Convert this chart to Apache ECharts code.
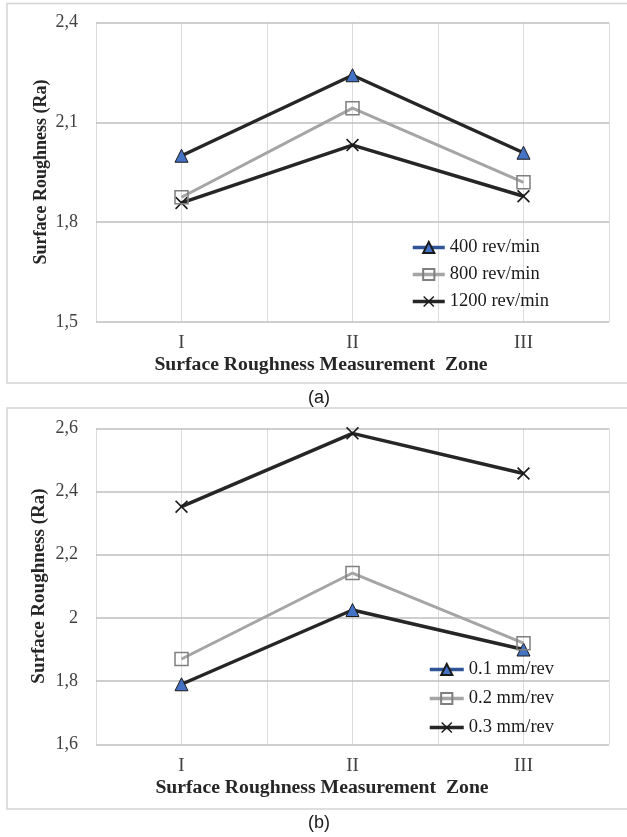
<!DOCTYPE html>
<html>
<head>
<meta charset="utf-8">
<script src="https://cdn.jsdelivr.net/npm/echarts@6/dist/echarts.min.js"></script>
<style>
html,body{margin:0;padding:0;background:#fff;}
#c{width:627px;height:837px;}
</style>
</head>
<body>
<div id="c"></div>
<script>
// ---- data ----
const categories = ['I', 'II', 'III'];
// chart (a): spindle speed
const seriesNamesA = ['400 rev/min', '800 rev/min', '1200 rev/min'];
const a400 = [2.0, 2.242, 2.009];
const a800 = [1.875, 2.143, 1.92];
const a1200 = [1.858, 2.032, 1.878];
const yTicksA = { min: 1.5, max: 2.4, interval: 0.3 };
// chart (b): feed rate
const seriesNamesB = ['0.1 mm/rev', '0.2 mm/rev', '0.3 mm/rev'];
const b01 = [1.79, 2.025, 1.90];
const b02 = [1.87, 2.142, 1.92];
const b03 = [2.352, 2.584, 2.457];
const yTicksB = { min: 1.6, max: 2.6, interval: 0.2 };
const yTitle = 'Surface Roughness (Ra)';
const xTitle = 'Surface Roughness Measurement  Zone';
const captions = ['(a)', '(b)'];

// ---- styles ----
const SERIF = '"Liberation Serif", "Times New Roman", serif';
const SANS = '"Liberation Sans", Arial, sans-serif';
const BLACK = '#262626';
const GREY = '#a5a5a5';
const BLUE = '#4472c4';
const XPATH = 'path://M0,0.9L0.9,0L5,4.1L9.1,0L10,0.9L5.9,5L10,9.1L9.1,10L5,5.9L0.9,10L0,9.1L4.1,5Z';

const fmt = v => String(+v.toFixed(1)).replace('.', ',');

function triSeries(name, data, xi, yi) {
  return { name, type: 'line', xAxisIndex: xi, yAxisIndex: yi, data,
    symbol: 'triangle', symbolSize: 13,
    lineStyle: { color: BLACK, width: 3.5 },
    itemStyle: { color: BLUE, borderColor: '#1a1a1a', borderWidth: 1 }, z: 3 };
}
function sqSeries(name, data, xi, yi) {
  return { name, type: 'line', xAxisIndex: xi, yAxisIndex: yi, data,
    symbol: 'rect', symbolSize: 13,
    lineStyle: { color: GREY, width: 3 },
    itemStyle: { color: 'rgba(255,255,255,0)', borderColor: '#7f7f7f', borderWidth: 1.5 }, z: 4 };
}
function xSeries(name, data, xi, yi) {
  return { name, type: 'line', xAxisIndex: xi, yAxisIndex: yi, data,
    symbol: XPATH, symbolSize: 13,
    lineStyle: { color: BLACK, width: 3.5 },
    itemStyle: { color: '#1a1a1a' }, z: 2 };
}

function catAxis(gi) {
  return { type: 'category', gridIndex: gi, data: categories, boundaryGap: true,
    axisLine: { show: false }, axisTick: { show: false }, splitLine: { show: false },
    axisLabel: { margin: 12, fontFamily: SERIF, fontSize: 19, color: '#404040' } };
}
function vGridAxis(gi) {
  return { type: 'value', gridIndex: gi, min: 0, max: 6, interval: 1, position: 'top',
    axisLine: { show: false }, axisTick: { show: false }, axisLabel: { show: false },
    splitLine: { show: true, lineStyle: { color: '#dcdcdc', width: 1 } } };
}
function valAxis(gi, t) {
  return { type: 'value', gridIndex: gi, min: t.min, max: t.max, interval: t.interval,
    axisLine: { show: false }, axisTick: { show: false },
    axisLabel: { margin: 18, fontFamily: SERIF, fontSize: 18, color: '#404040', formatter: fmt },
    splitLine: { show: true, lineStyle: { color: '#bfbfbf', width: 1.5 } }, z: 1 };
}

function legendData(names) {
  return [
    { name: names[0], lineStyle: { color: '#2f5597', width: 3.5 } },
    { name: names[1], lineStyle: { color: GREY, width: 3.5 } },
    { name: names[2], lineStyle: { color: BLACK, width: 3.5 } }
  ];
}

function txt(x, y, text, opts) {
  return Object.assign({ type: 'text', x, y, silent: true,
    style: Object.assign({ text, textAlign: 'center', textVerticalAlign: 'middle', fill: BLACK },
      opts.style || {}) }, opts.el || {});
}

const chart = echarts.init(document.getElementById('c'), null, { renderer: 'canvas' });
chart.setOption({
  animation: false,
  backgroundColor: '#fff',
  grid: [
    { left: 96, top: 22.7, width: 513, height: 299.3 },
    { left: 96, top: 428.3, width: 513, height: 316 }
  ],
  xAxis: [catAxis(0), catAxis(1), vGridAxis(0), vGridAxis(1)],
  yAxis: [valAxis(0, yTicksA), valAxis(1, yTicksB)],
  legend: [
    { orient: 'vertical', left: 411, top: 238, padding: 0, itemWidth: 32, itemHeight: 14, itemGap: 8,
      textStyle: { fontFamily: SERIF, fontSize: 18.5, color: '#1a1a1a', lineHeight: 18 },
      data: legendData(seriesNamesA), selectedMode: false },
    { orient: 'vertical', left: 428, top: 660, padding: 0, itemWidth: 34, itemHeight: 14, itemGap: 10,
      textStyle: { fontFamily: SERIF, fontSize: 18.5, color: '#1a1a1a', lineHeight: 18 },
      data: legendData(seriesNamesB), selectedMode: false }
  ],
  series: [
    triSeries(seriesNamesA[0], a400, 0, 0),
    sqSeries(seriesNamesA[1], a800, 0, 0),
    xSeries(seriesNamesA[2], a1200, 0, 0),
    triSeries(seriesNamesB[0], b01, 1, 1),
    sqSeries(seriesNamesB[1], b02, 1, 1),
    xSeries(seriesNamesB[2], b03, 1, 1)
  ],
  graphic: [
    { type: 'rect', shape: { x: 7, y: 3.5, width: 640, height: 379.5 }, silent: true,
      style: { fill: 'none', stroke: '#d4d4d4', lineWidth: 1.5 }, z: -10 },
    { type: 'rect', shape: { x: 7, y: 408, width: 640, height: 401 }, silent: true,
      style: { fill: 'none', stroke: '#d4d4d4', lineWidth: 1.5 }, z: -10 },
    txt(41, 172, yTitle, { style: { font: 'bold 18px ' + SERIF }, el: { rotation: Math.PI / 2 } }),
    txt(39, 586, yTitle, { style: { font: 'bold 19px ' + SERIF }, el: { rotation: Math.PI / 2 } }),
    txt(321, 365, xTitle, { style: { font: 'bold 19.7px ' + SERIF } }),
    txt(322, 788, xTitle, { style: { font: 'bold 19.7px ' + SERIF } }),
    txt(319, 398, captions[0], { style: { font: '18px ' + SANS, fill: '#1a1a1a' } }),
    txt(319, 823, captions[1], { style: { font: '18px ' + SANS, fill: '#1a1a1a' } })
  ]
});
</script>
</body>
</html>
